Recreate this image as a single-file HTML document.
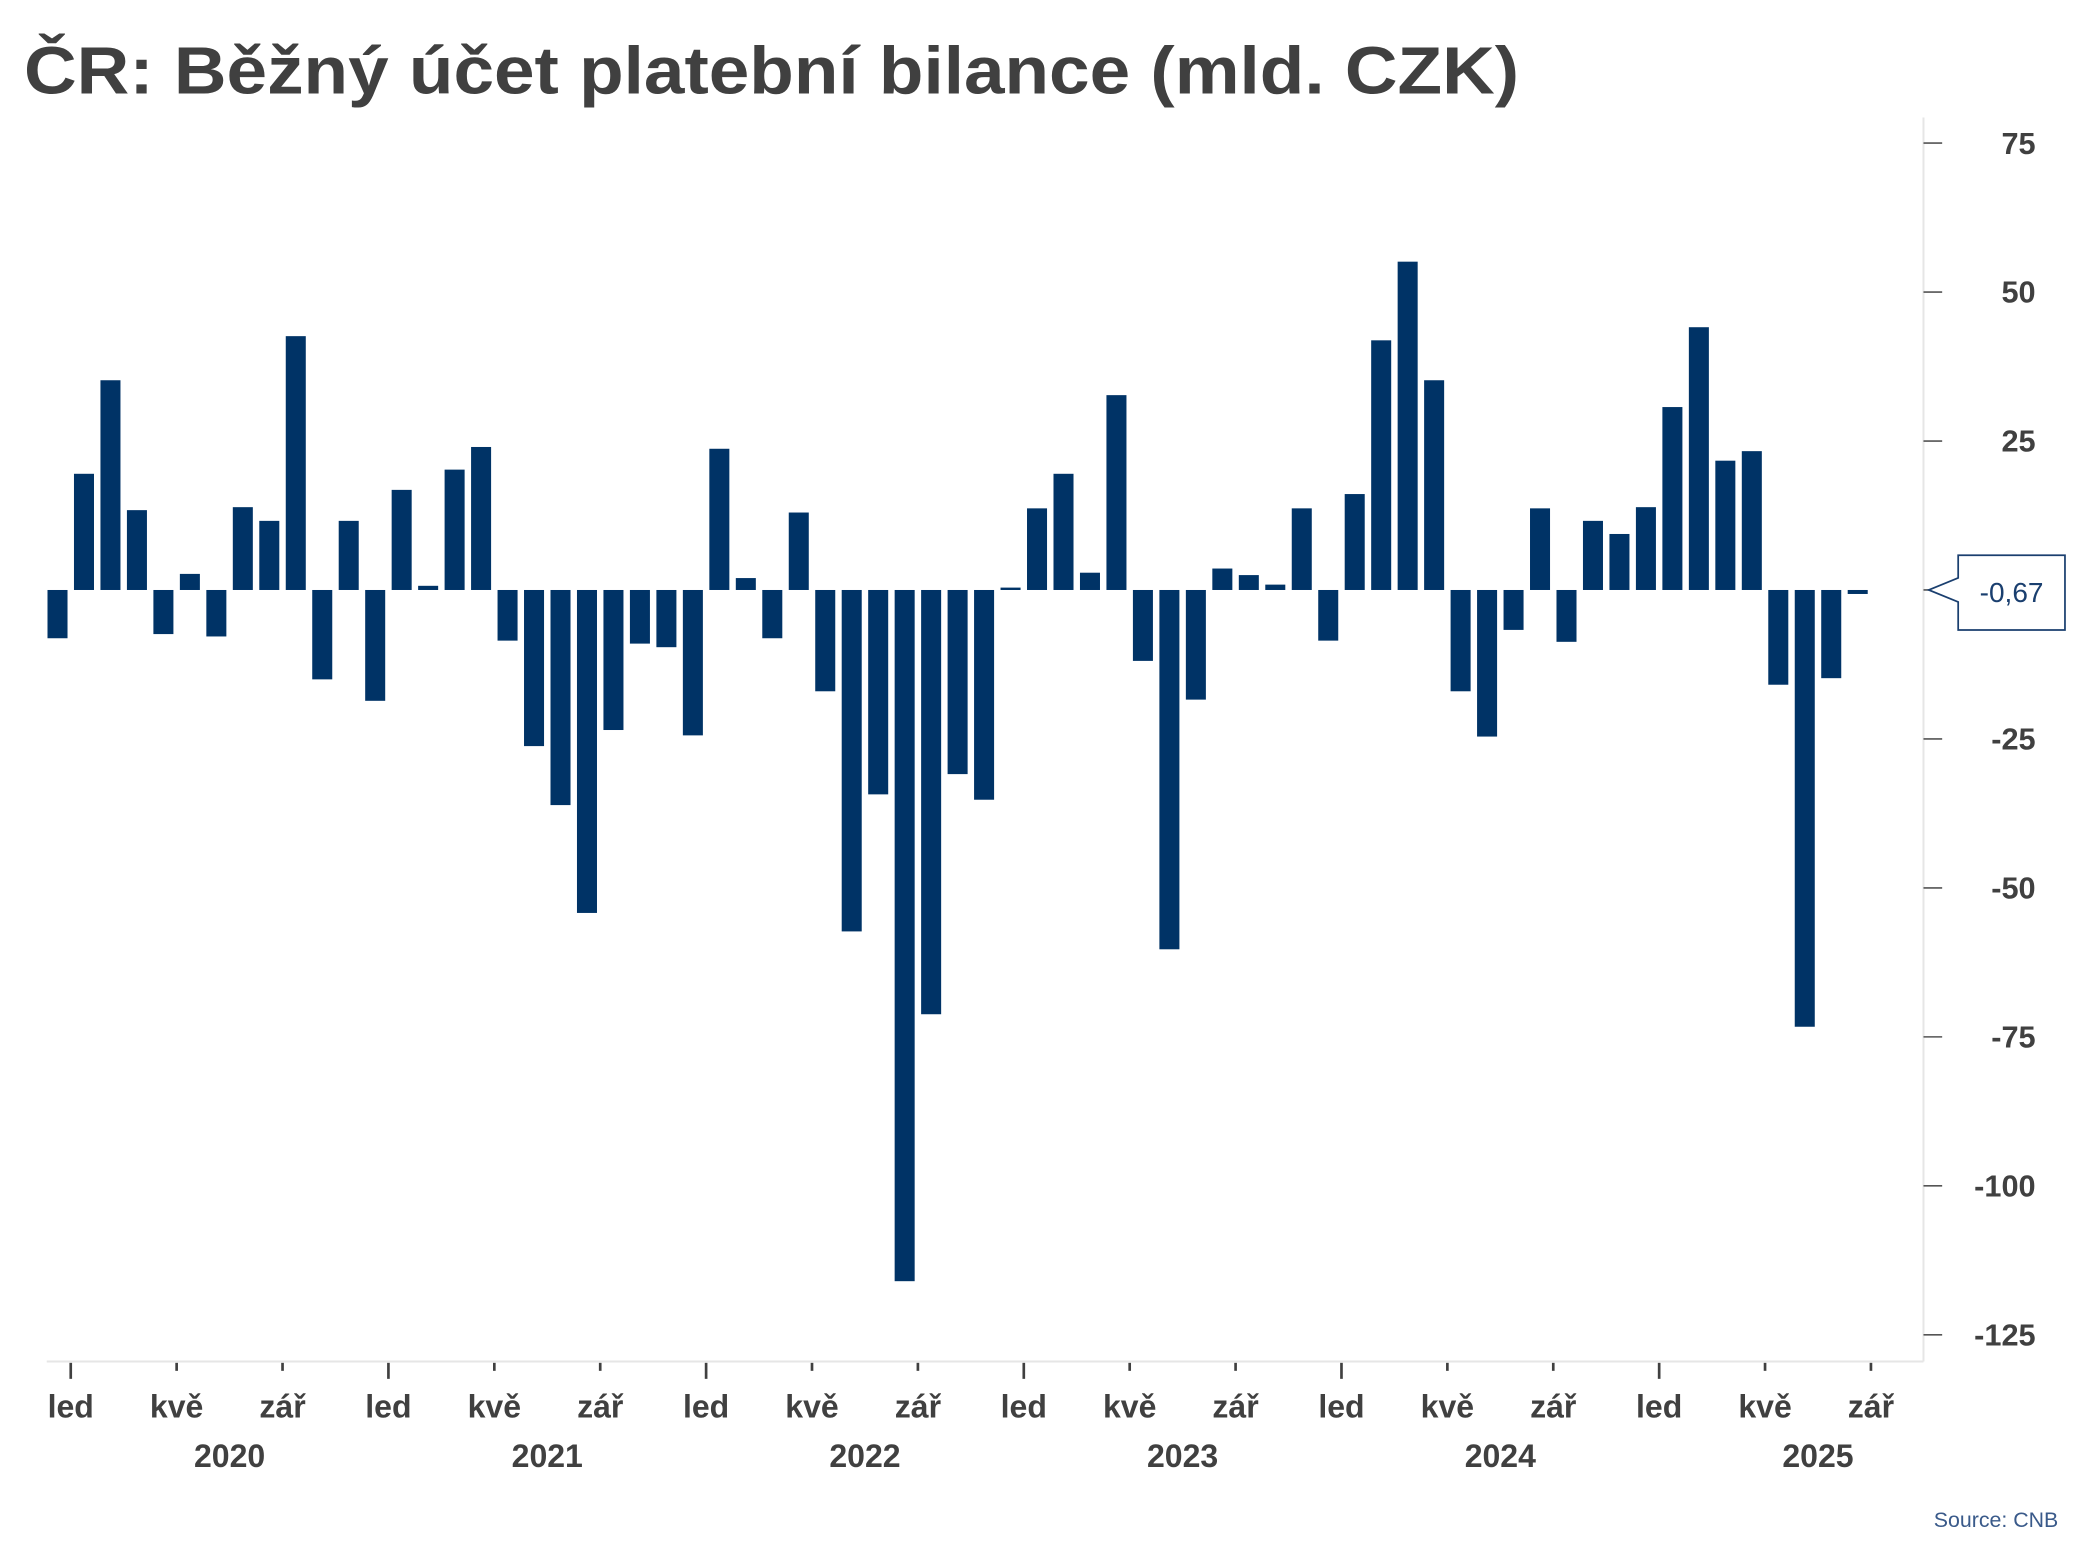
<!DOCTYPE html>
<html><head><meta charset="utf-8"><style>
html,body{margin:0;padding:0;background:#fff;}
svg{display:block;font-family:"Liberation Sans",sans-serif;}
</style></head><body>
<svg id="chart" width="2093" height="1568" viewBox="0 0 1568 1174.7" preserveAspectRatio="none" xmlns="http://www.w3.org/2000/svg">
<text x="18" y="70" font-size="50" font-weight="bold" fill="#404040" textLength="1120" lengthAdjust="spacingAndGlyphs">ČR: Běžný účet platební bilance (mld. CZK)</text>
<line x1="1441" y1="88" x2="1441" y2="1020" stroke="#e6e6e6" stroke-width="1.5"/>
<line x1="35" y1="1020" x2="1441" y2="1020" stroke="#e6e6e6" stroke-width="1.5"/>
<g id="bars"></g>
<g id="yaxis"></g>
<g id="xaxis"></g>
<g>
<path d="M1445 442 L1467 433 L1467 416 L1547 416 L1547 472 L1467 472 L1467 451 Z" fill="#fff" stroke="#1a3f6f" stroke-width="1.3"/>
<text x="1507" y="451" font-size="21" fill="#1a3f6f" text-anchor="middle">-0,67</text>
</g>
<text x="1542" y="1144" font-size="16" fill="#3a5a8a" text-anchor="end">Source: CNB</text>
</svg>
<script>
const values = [-8.1,19.5,35.2,13.4,-7.4,2.7,-7.8,13.9,11.6,42.6,-15,11.6,
-18.6,16.8,0.7,20.2,24,-8.5,-26.2,-36.1,-54.2,-23.5,-9,-9.6,
-24.4,23.7,2,-8.1,13,-17,-57.3,-34.3,-116,-71.2,-30.9,-35.2,
0.4,13.7,19.5,2.9,32.7,-11.9,-60.3,-18.4,3.6,2.5,0.9,13.7,
-8.5,16.1,41.9,55.1,35.2,-17,-24.6,-6.7,13.7,-8.7,11.6,9.4,
13.9,30.7,44.1,21.7,23.3,-15.9,-73.3,-14.8,-0.67];
const years = ["2020","2021","2022","2023","2024","2025"];
const monthLabels = ["led","kvě","zář"];
const yTicks = [75,50,25,0,-25,-50,-75,-100,-125];
const yTickLabels = ["75","50","25","","-25","-50","-75","-100","-125"];

const NS="http://www.w3.org/2000/svg";
const y0=442, pxPerUnit=111.6/25;
const yScale=v=>y0 - v*pxPerUnit;
const pitch=19.833, xStart=53;
const xCenter=i=>xStart + (i-0.5)*pitch;
const tickX=m=>xStart + m*pitch;
function mk(tag,attrs,parent){const e=document.createElementNS(NS,tag);for(const k in attrs)e.setAttribute(k,attrs[k]);parent.appendChild(e);return e;}

const gb=document.getElementById('bars');
values.forEach((v,i)=>{
  const top=Math.min(yScale(v),y0), h=Math.max(Math.abs(yScale(v)-y0),1.5);
  const r=mk('rect',{x:xCenter(i)-7.5,y:top,width:15,height:h,fill:'#003366'},gb);
  
  
});

const gy=document.getElementById('yaxis');
yTicks.forEach((t,k)=>{
  const y=yScale(t);
  const l=mk('line',{x1:1441,y1:y,x2:1455,y2:y,stroke:'#555','stroke-width':1.2},gy);
  
  
  if(yTickLabels[k]){
    const tx=mk('text',{x:1525,y:y+8,'font-size':23,'font-weight':'bold',fill:'#404040','text-anchor':'end'},gy);
    tx.textContent=yTickLabels[k];
    
    
  }
});

const gx=document.getElementById('xaxis');
const nMonths=values.length;
for(let m=0;m<nMonths;m+=4){
  const x=tickX(m), isJan=(m%12===0);
  const l=mk('line',{x1:x,y1:1021,x2:x,y2:isJan?1033:1027,stroke:'#404040','stroke-width':2},gx);
  
  
  const tx=mk('text',{x:x,y:1062,'font-size':24,'font-weight':'bold',fill:'#404040','text-anchor':'middle'},gx);
  tx.textContent=monthLabels[(m%12)/4];
  
  
}
years.forEach((yr,k)=>{
  const tx=mk('text',{x:tickX(k*12)+119,y:1099,'font-size':24,'font-weight':'bold',fill:'#404040','text-anchor':'middle'},gx);
  tx.textContent=yr;
  
  
});
</script>
</body></html>
